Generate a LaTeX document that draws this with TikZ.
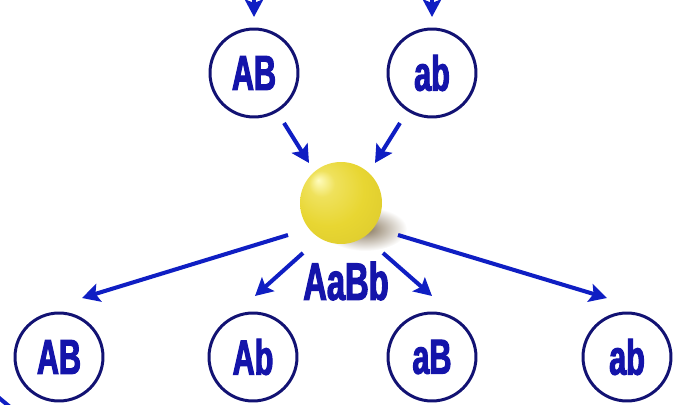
\documentclass[tikz,border=0pt]{standalone}
\usepackage{fontspec}
\newfontfamily\genefont{Liberation Sans}[UprightFont={* Bold},FakeStretch=0.62,FakeBold=2.2]
\usetikzlibrary{arrows.meta}
\definecolor{genetext}{RGB}{20,20,170}
\definecolor{ringblue}{RGB}{18,18,115}
\definecolor{arrowblue}{RGB}{15,30,195}
\definecolor{peahi}{RGB}{255,252,190}
\definecolor{peabody}{RGB}{232,214,50}
\definecolor{peaedge}{RGB}{165,145,22}
\definecolor{peashadow}{RGB}{135,118,92}
\pgfdeclareradialshading{peashade}{\pgfpoint{-14bp}{14bp}}{%
  color(0bp)=(peahi); color(8bp)=(peabody!70!peahi); color(22bp)=(peabody);
  color(36bp)=(peabody!85!peaedge); color(50bp)=(peaedge)}
\tikzset{
    gamete/.style={circle, draw=ringblue, line width=1.7pt, fill=white,
        minimum size=1.76cm, inner sep=0pt, text=genetext,
        font=\genefont\fontsize{28}{28}\selectfont},
    genotype/.style={text=genetext, inner sep=0pt,
        font=\genefont\fontsize{30}{30}\selectfont},
    arr/.style={draw=arrowblue, line width=2.3pt,
        -{Stealth[length=10pt,width=10.5pt,inset=2pt]}}
}

\begin{document}
\begin{tikzpicture}[x=0.02cm, y=-0.02cm]
    \useasboundingbox (0,0) rectangle (674,405);

    % parent gametes
    \node[gamete] (pAB) at (254,73) {AB};
    \node[gamete] (pab) at (432,73) {ab};
    \coordinate (inAB) at (254,-4);
    \coordinate (inab) at (432,-4);
    \draw[arr] (inAB) -- ([shift={(0,-56)}]pAB.center);
    \draw[arr] (inab) -- ([shift={(0,-56)}]pab.center);

    % the seed (F1)
    \shade[inner color=peashadow, outer color=white] (365,229) ellipse (42 and 22);
    \node[circle, minimum size=1.64cm, inner sep=0pt, shading=peashade] (pea) at (341,203) {};
    \node[genotype] (f1) at (346,281) {AaBb};

    % gametes of the hybrid
    \node[gamete] (g1) at (59,357) {AB};
    \node[gamete] (g2) at (253,357) {Ab};
    \node[gamete] (g3) at (432,357) {aB};
    \node[gamete] (g4) at (627,357) {ab};

    % fertilisation
    \draw[arr] ([shift={(30,50)}]pAB.center) -- ([shift={(-32,-40)}]pea.center);
    \draw[arr] ([shift={(-32,50)}]pab.center) -- ([shift={(34,-40)}]pea.center);

    % segregation
    \draw[arr] ([shift={(-53,32)}]pea.center) -- ([shift={(23,-59)}]g1.center);
    \draw[arr] ([shift={(-38,50)}]pea.center) -- ([shift={(2,-61)}]g2.center);
    \draw[arr] ([shift={(42,50)}]pea.center) -- ([shift={(0,-61)}]g3.center);
    \draw[arr] ([shift={(57,32)}]pea.center) -- ([shift={(-20,-59)}]g4.center);

    % cut-off stroke in the corner
    \coordinate (cornA) at (-2,397);
    \coordinate (cornB) at (10,407);
    \draw[arrowblue, line width=2.3pt] (cornA) -- (cornB);
\end{tikzpicture}
\end{document}
